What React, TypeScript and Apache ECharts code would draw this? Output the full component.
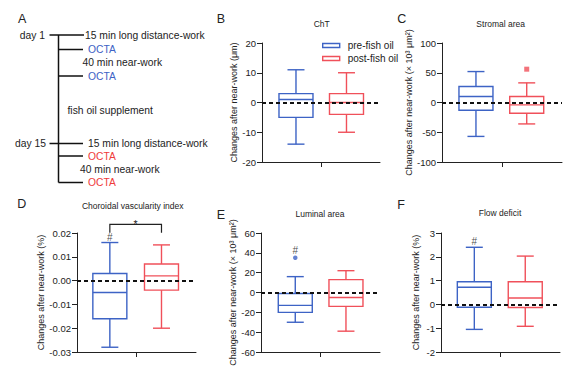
import React, { useEffect, useRef } from "react";
import * as echarts from "echarts";

const BLUE = "#3d63c5";
const RED = "#f0505a";
const TEXT_BLUE = "#3d63c5";
const TEXT_RED = "#ef3b3b";
const INK = "#222";
const FONT = "'Liberation Sans', Arial, Helvetica, sans-serif";

// Box data: [min, Q1, median, Q3, max]
const groupNames = ["pre-fish oil", "post-fish oil"];
const chtPre = [-14, -5, 1, 3, 11];
const chtPost = [-10, -4, 0, 3, 10];
const stromalPre = [-57, -13, 10, 27, 52];
const stromalPost = [-36, -18, -4, 10, 33];
const stromalPostOutliers = [56];
const cviPre = [-0.028, -0.016, -0.005, 0.003, 0.016];
const cviPost = [-0.02, -0.004, 0.002, 0.007, 0.015];
const luminalPre = [-30, -20, -13, -1, 16];
const luminalPreOutliers = [35];
const luminalPost = [-39, -14, -5, 13, 22];
const flowPre = [-1.05, -0.12, 0.72, 0.95, 2.4];
const flowPost = [-0.92, -0.13, 0.27, 0.95, 2.03];

// Significance bracket between the two groups in panel D
const cviBracket = { label: "*", level: 0.02366, drop: 0.0201 };

const panels = [
  {
    letter: "B", letterXY: [216.7, 19], title: "ChT", titleXY: [321.7, 24],
    yName: "Changes after near-work (μm)", nameGap: 24,
    min: -20, max: 20, interval: 10, dec: 0,
    grid: { left: 262, top: 43, width: 118, height: 119 }, pos: [0.288, 0.716],
    pre: chtPre, post: chtPost, preOut: [] as number[], postOut: [] as number[],
    preSig: false, postSig: false, sigGap: 1,
  },
  {
    letter: "C", letterXY: [397.3, 19], title: "Stromal area", titleXY: [500.7, 24.3],
    yName: "Changes after near-work (× 10³ μm²)", nameGap: 25,
    min: -100, max: 100, interval: 50, dec: 0,
    grid: { left: 442, top: 43, width: 120, height: 119 }, pos: [0.283, 0.706],
    pre: stromalPre, post: stromalPost, preOut: [] as number[], postOut: stromalPostOutliers,
    preSig: false, postSig: false, sigGap: 1,
  },
  {
    letter: "D", letterXY: [17.3, 204], title: "Choroidal vascularity index", titleXY: [132.7, 206],
    yName: "Changes after near-work (%)", nameGap: 31,
    min: -0.03, max: 0.02, interval: 0.01, dec: 2,
    grid: { left: 77, top: 233, width: 119, height: 119 }, pos: [0.276, 0.71],
    pre: cviPre, post: cviPost, preOut: [] as number[], postOut: [] as number[],
    preSig: true, postSig: false, sigGap: 0, bracket: cviBracket,
  },
  {
    letter: "E", letterXY: [216.7, 215], title: "Luminal area", titleXY: [320, 214.3],
    yName: "Changes after near-work (× 10³ μm²)", nameGap: 24,
    min: -60, max: 60, interval: 20, dec: 0,
    grid: { left: 261, top: 233, width: 119, height: 119 }, pos: [0.288, 0.714],
    pre: luminalPre, post: luminalPost, preOut: luminalPreOutliers, postOut: [] as number[],
    preSig: true, postSig: false, sigGap: 2.5,
  },
  {
    letter: "F", letterXY: [397.3, 205], title: "Flow deficit", titleXY: [500, 213.3],
    yName: "Changes after near-work (%)", nameGap: 21,
    min: -2, max: 3, interval: 1, dec: 0,
    grid: { left: 441, top: 233, width: 119, height: 119 }, pos: [0.28, 0.708],
    pre: flowPre, post: flowPost, preOut: [] as number[], postOut: [] as number[],
    preSig: true, postSig: false, sigGap: 0.5,
  },
];

const BOX_W = 34;
const CAP_W = 17;
const LW = 1.4;

const makeBoxRender = (color: string) => (_params: any, api: any) => {
  const x = api.value(0);
  const pts = [1, 2, 3, 4, 5].map((i) => api.coord([x, api.value(i)]));
  const cx = pts[0][0];
  const [yMin, yQ1, yMed, yQ3, yMax] = pts.map((p: number[]) => p[1]);
  const st = { stroke: color, lineWidth: LW, fill: "transparent" };
  const h = BOX_W / 2;
  const c = CAP_W / 2;
  return {
    type: "group",
    children: [
      { type: "rect", shape: { x: cx - h, y: yQ3, width: BOX_W, height: yQ1 - yQ3 }, style: st },
      { type: "line", shape: { x1: cx - h, y1: yMed, x2: cx + h, y2: yMed }, style: st },
      { type: "line", shape: { x1: cx, y1: yQ3, x2: cx, y2: yMax }, style: st },
      { type: "line", shape: { x1: cx, y1: yQ1, x2: cx, y2: yMin }, style: st },
      { type: "line", shape: { x1: cx - c, y1: yMax, x2: cx + c, y2: yMax }, style: st },
      { type: "line", shape: { x1: cx - c, y1: yMin, x2: cx + c, y2: yMin }, style: st },
    ],
  };
};

const bracketRender = (label: string) => (_params: any, api: any) => {
  const a = api.coord([api.value(0), api.value(2)]);
  const b = api.coord([api.value(1), api.value(2)]);
  const d = api.coord([api.value(0), api.value(3)]);
  return {
    type: "group",
    children: [
      {
        type: "polyline",
        shape: { points: [[a[0], d[1]], [a[0], a[1]], [b[0], b[1]], [b[0], d[1]]] },
        style: { stroke: INK, lineWidth: 1.2, fill: "none" },
      },
      {
        type: "text",
        style: {
          x: (a[0] + b[0]) / 2, y: a[1] - 0.5, text: label, fill: INK,
          fontSize: 10.5, fontFamily: FONT, align: "center", verticalAlign: "middle",
        },
      },
    ],
  };
};

function buildOption() {
  const grids: any[] = [];
  const xAxes: any[] = [];
  const yAxes: any[] = [];
  const series: any[] = [];
  const graphic: any[] = [];

  panels.forEach((p, i) => {
    grids.push({ ...p.grid, containLabel: false });
    xAxes.push({
      type: "value", gridIndex: i, min: 0, max: 1,
      axisLine: { show: true, onZero: false, lineStyle: { color: INK, width: 1 } },
      axisTick: { show: true, customValues: [0.5], length: 5, lineStyle: { color: INK, width: 1 } },
      axisLabel: { show: false }, splitLine: { show: false },
    });
    yAxes.push({
      type: "value", gridIndex: i, min: p.min, max: p.max, interval: p.interval,
      axisLine: { show: true, onZero: false, lineStyle: { color: INK, width: 1 } },
      axisTick: { show: true, length: 5, lineStyle: { color: INK, width: 1 } },
      axisLabel: {
        fontSize: 9.5, color: INK, margin: 6, fontFamily: FONT,
        formatter: (v: number) => (Math.abs(v) < 1e-9 ? 0 : v).toFixed(p.dec),
      },
      splitLine: { show: false },
      name: p.yName, nameLocation: "middle", nameGap: p.nameGap,
      nameTextStyle: { fontSize: 9, color: INK, fontFamily: FONT },
    });

    const groups = [
      { name: groupNames[0], data: p.pre, color: BLUE, pos: p.pos[0], out: p.preOut, sig: p.preSig, sym: "circle", symSize: 4.5 },
      { name: groupNames[1], data: p.post, color: RED, pos: p.pos[1], out: p.postOut, sig: p.postSig, sym: "rect", symSize: 5 },
    ];
    groups.forEach((g, gi) => {
      const s: any = {
        type: "custom", name: g.name, xAxisIndex: i, yAxisIndex: i,
        renderItem: makeBoxRender(g.color), itemStyle: { color: g.color },
        data: [[g.pos, ...g.data]], encode: { x: 0, y: [1, 2, 3, 4, 5] },
        silent: true, clip: false, z: 2,
      };
      if (gi === 0) {
        s.markLine = {
          silent: true, symbol: ["none", "none"], label: { show: false }, z: 5,
          lineStyle: { color: "#111", type: [4, 3], width: 1.8 },
          data: [{ yAxis: 0 }],
        };
      }
      series.push(s);
      if (g.out.length) {
        series.push({
          type: "scatter", xAxisIndex: i, yAxisIndex: i, silent: true,
          symbol: g.sym, symbolSize: g.symSize, itemStyle: { color: g.color },
          data: g.out.map((v) => [g.pos, v]), z: 3,
        });
      }
      if (g.sig) {
        const anchor = g.out.length ? Math.max(...g.out) : g.data[4];
        series.push({
          type: "scatter", xAxisIndex: i, yAxisIndex: i, silent: true,
          symbol: "circle", symbolSize: 0.1, itemStyle: { color: "transparent" },
          label: { show: true, formatter: "#", position: "top", distance: p.sigGap, fontSize: 10, color: INK, fontFamily: FONT },
          data: [[g.pos, anchor]], z: 4,
        });
      }
    });
    if ((p as any).bracket) {
      const b = (p as any).bracket;
      series.push({
        type: "custom", xAxisIndex: i, yAxisIndex: i, silent: true, clip: false,
        renderItem: bracketRender(b.label),
        data: [[p.pos[0], p.pos[1], b.level, b.drop]], encode: { x: [0, 1], y: [2, 3] }, z: 4,
      });
    }

    graphic.push({
      type: "text", left: p.letterXY[0], top: p.letterXY[1] - 7,
      style: { text: p.letter, fontSize: 12.5, fill: INK, fontFamily: FONT },
    });
    graphic.push({
      type: "text", x: p.titleXY[0], y: p.titleXY[1],
      style: { text: p.title, fontSize: 8.5, fill: INK, fontFamily: FONT, align: "center", verticalAlign: "middle" },
    });
  });

  // Panel A: study timeline diagram
  const ln = (x1: number, y1: number, x2: number, y2: number) => ({
    type: "line", shape: { x1, y1, x2, y2 }, style: { stroke: "#111", lineWidth: 1.5 },
  });
  const tx = (text: string, x: number, y: number, fill = INK, align = "left") => ({
    type: "text", x, y,
    style: { text, fill, fontSize: 10.3, fontFamily: FONT, align, verticalAlign: "middle" },
  });
  graphic.push(
    { type: "text", left: 18, top: 12, style: { text: "A", fontSize: 12.5, fill: INK, fontFamily: FONT } },
    ln(58.5, 35, 58.5, 182.5),
    ln(49.5, 35, 84, 35),
    ln(58.5, 49.5, 83, 49.5),
    ln(58.5, 76, 83, 76),
    ln(49.5, 143.5, 83, 143.5),
    ln(58.5, 156, 83, 156),
    ln(58.5, 182.5, 83, 182.5),
    tx("day 1", 45, 35, INK, "right"),
    tx("15 min long distance-work", 85, 35),
    tx("OCTA", 88, 49.5, TEXT_BLUE),
    tx("40 min near-work", 82.5, 62.5),
    tx("OCTA", 88, 76, TEXT_BLUE),
    tx("fish oil supplement", 67.5, 110),
    tx("day 15", 46, 143.5, INK, "right"),
    tx("15 min long distance-work", 88, 143.5),
    tx("OCTA", 88, 156, TEXT_RED),
    tx("40 min near-work", 80, 169.5),
    tx("OCTA", 88, 182.5, TEXT_RED),
  );

  return {
    animation: false,
    backgroundColor: "#ffffff",
    textStyle: { fontFamily: FONT },
    legend: {
      orient: "vertical", left: 317, top: 34.5, itemWidth: 17, itemHeight: 4, itemGap: 1,
      textStyle: { fontSize: 10, color: INK, fontFamily: FONT, lineHeight: 12, padding: [0, 0, 0, 3] },
      selectedMode: false,
      data: [
        { name: groupNames[0], icon: "rect", itemStyle: { color: "transparent", borderColor: BLUE, borderWidth: 1.4 } },
        { name: groupNames[1], icon: "rect", itemStyle: { color: "transparent", borderColor: RED, borderWidth: 1.4 } },
      ],
    },
    grid: grids,
    xAxis: xAxes,
    yAxis: yAxes,
    series,
    graphic,
  };
}

export default function App() {
  const ref = useRef<HTMLDivElement>(null);
  useEffect(() => {
    if (!ref.current) return;
    const chart = echarts.init(ref.current, undefined, { renderer: "svg" });
    chart.setOption(buildOption() as any);
    return () => chart.dispose();
  }, []);
  return (
    <div
      ref={ref}
      style={{ position: "fixed", left: 0, top: 0, width: 573, height: 378, background: "#fff" }}
    />
  );
}
